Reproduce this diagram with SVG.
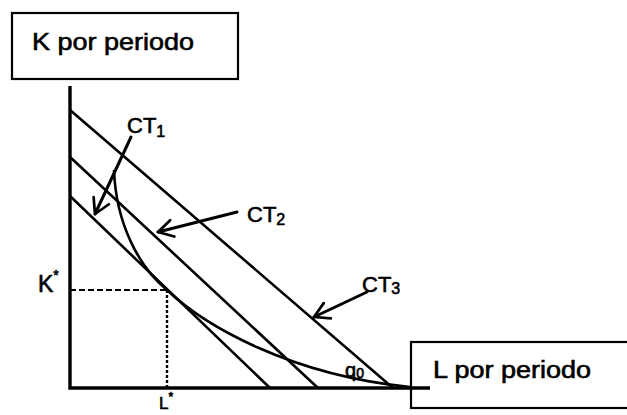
<svg xmlns="http://www.w3.org/2000/svg" width="627" height="415" viewBox="0 0 627 415">
<defs>
<style>
.t{font-family:"Liberation Sans",Arial,sans-serif;fill:#000;stroke:#000;stroke-width:0.6}
.box{fill:#fff;stroke:#000;stroke-width:2.2}
.ln{fill:none;stroke:#000;stroke-width:2.6}
.ax{fill:none;stroke:#000;stroke-width:3.4}
.arr{fill:none;stroke:#000;stroke-width:3;stroke-linecap:round}
</style>
<marker id="ah" viewBox="0 0 20 20" refX="18" refY="10" markerWidth="7" markerHeight="7" markerUnits="strokeWidth" orient="auto">
<path d="M4,2 L18,10 L4,18" fill="none" stroke="#000" stroke-width="2.6" stroke-linecap="round" stroke-linejoin="round"/>
</marker>
</defs>
<rect width="627" height="415" fill="#fff"/>
<g id="k-axis-label">
<rect class="box" x="12" y="13" width="226" height="66"/>
<text class="t" x="32" y="50" font-size="24" textLength="162" lengthAdjust="spacingAndGlyphs">K por periodo</text>
</g>
<g id="l-axis-label">
<rect class="box" x="411" y="342" width="230" height="66"/>
<text class="t" x="433" y="378" font-size="23" textLength="158" lengthAdjust="spacingAndGlyphs">L por periodo</text>
</g>
<g id="axes">
<path class="ax" d="M70,86 V388 H430"/>
</g>
<g id="connectors">
<line class="ln" x1="70" y1="110" x2="393" y2="388"/>
<line class="ln" x1="70" y1="157" x2="318" y2="388"/>
<line class="ln" x1="70" y1="196" x2="270" y2="388"/>
<path class="ln" d="M114,170 C116,225 140,268 167,290 C205,326 290,375 410,387"/>
<path fill="none" stroke="#000" stroke-width="2.2" stroke-dasharray="6,3" d="M70,290 H167"/>
<path fill="none" stroke="#000" stroke-width="2.4" stroke-dasharray="3,2" d="M167,290 V388"/>
<line class="arr" x1="131" y1="137" x2="95" y2="214" marker-end="url(#ah)"/>
<line class="arr" x1="237" y1="212" x2="158" y2="232" marker-end="url(#ah)"/>
<line class="arr" x1="367" y1="292" x2="314" y2="317" marker-end="url(#ah)"/>
</g>
<g id="ct1">
<text class="t" x="127" y="133" font-size="22">CT<tspan font-size="16" dy="4">1</tspan></text>
</g>
<g id="ct2">
<text class="t" x="247" y="222" font-size="22">CT<tspan font-size="16" dy="3">2</tspan></text>
</g>
<g id="ct3">
<text class="t" x="362" y="292" font-size="22">CT<tspan font-size="16" dy="2">3</tspan></text>
</g>
<g id="q0">
<text class="t" x="345" y="377" font-size="20">q<tspan font-size="14" dy="1">0</tspan></text>
</g>
<g id="kstar">
<text class="t" x="38" y="292" font-size="23">K<tspan font-size="14" dy="-12">*</tspan></text>
</g>
<g id="lstar">
<text class="t" x="159" y="409" font-size="17">L<tspan font-size="12" dy="-8">*</tspan></text>
</g>
</svg>
